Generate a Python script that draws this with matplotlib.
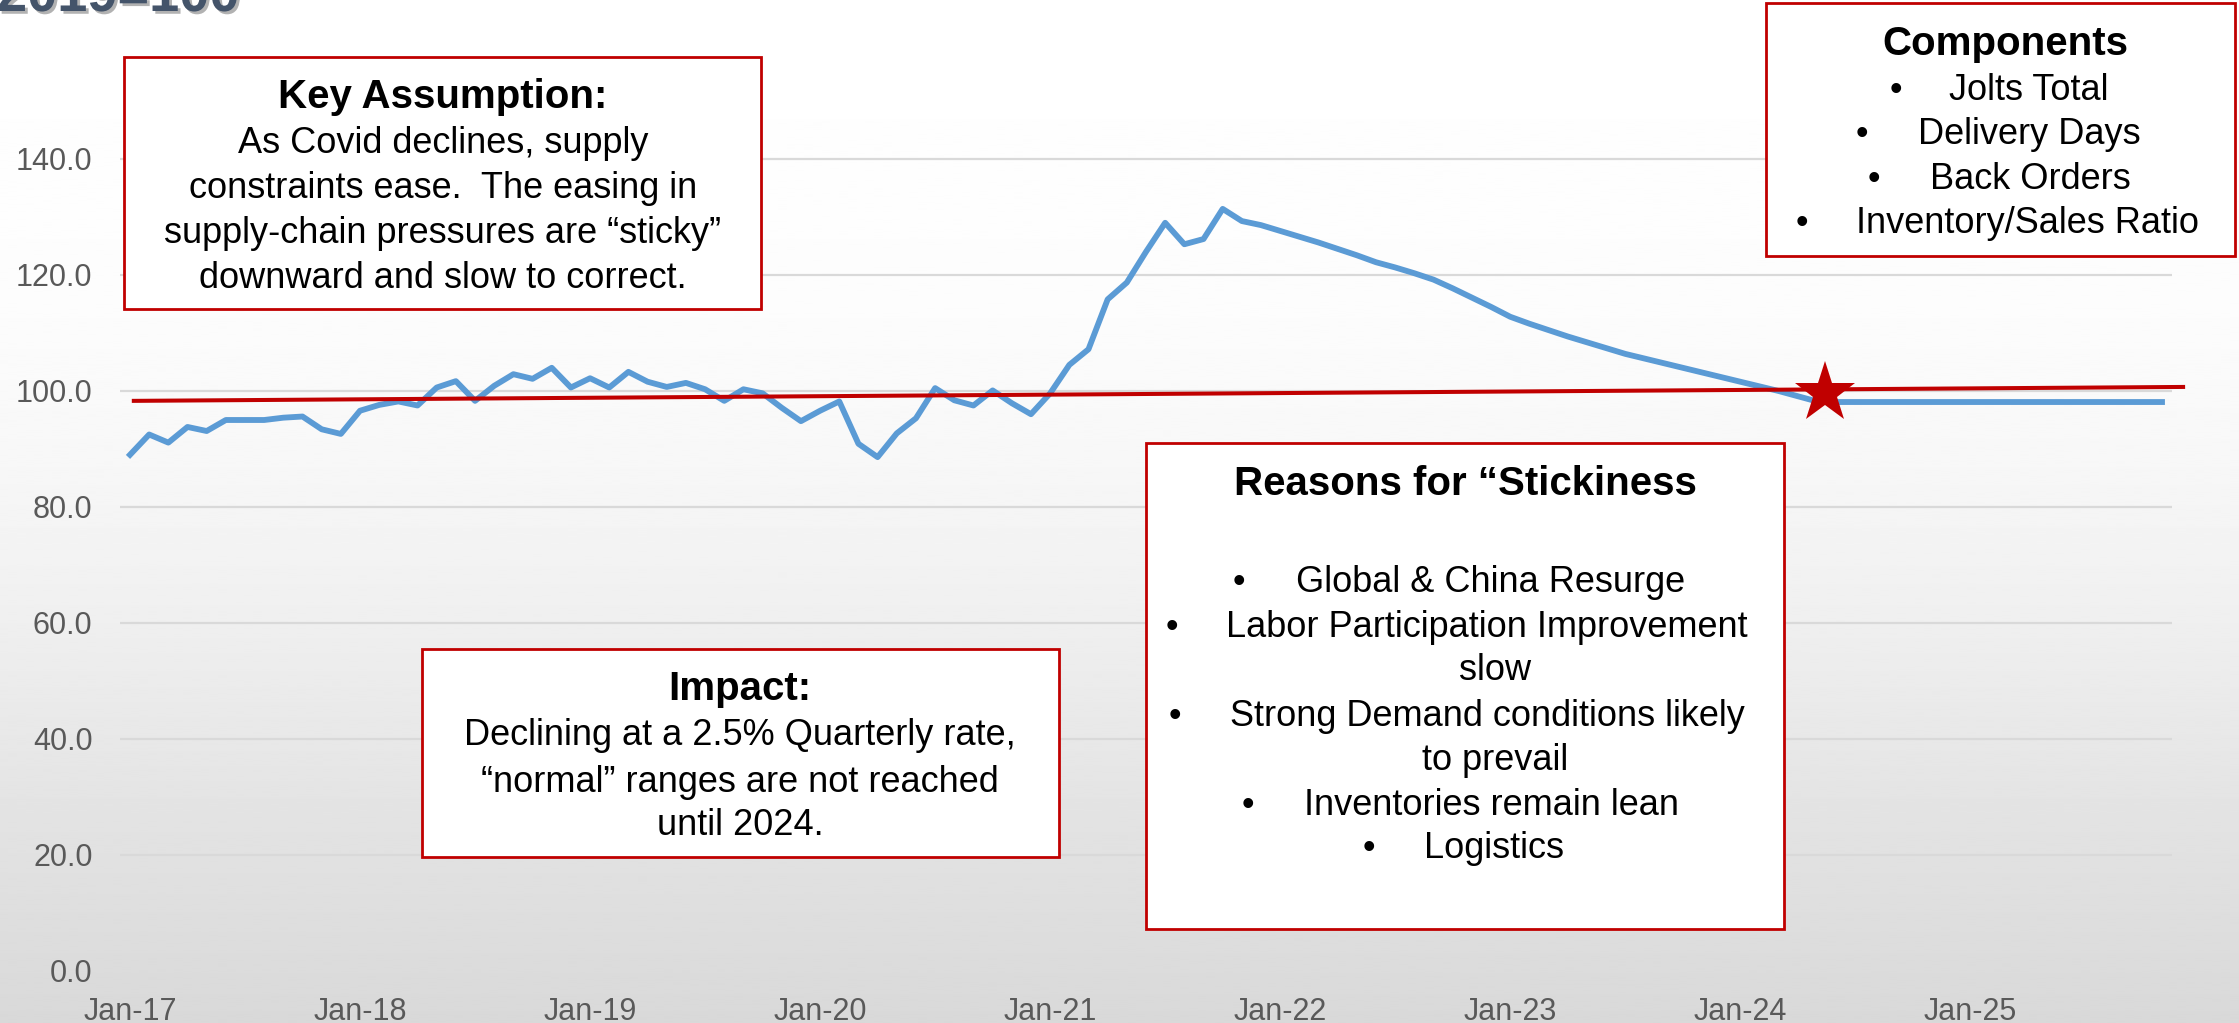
"""
Supply-chain pressure index, Jan-17 .. Nov-25 (2019=100), with annotation boxes.
Saves out.png (2239x1023).
"""

import numpy as np
import pandas as pd
import matplotlib
matplotlib.use("Agg")
import matplotlib.pyplot as plt
import matplotlib.patheffects as pe
from matplotlib.patches import Rectangle

# ── Data ──────────────────────────────────────────────────────────────────────

index_vals = [
    89.0, 92.5, 91.1, 93.8, 93.1, 95.0, 95.0, 95.0, 95.4, 95.6, 93.4, 92.6,      # 2017
    96.6, 97.6, 98.2, 97.5, 100.6, 101.7, 98.3, 100.9, 102.9, 102.1, 104.0, 100.6,  # 2018
    102.2, 100.6, 103.3, 101.6, 100.7, 101.4, 100.3, 98.3, 100.3, 99.6, 97.1, 94.8,  # 2019
    96.6, 98.2, 90.9, 88.6, 92.7, 95.3, 100.5, 98.4, 97.5, 100.1, 97.9, 96.0,    # 2020
    99.6, 104.5, 107.2, 115.8, 118.7, 124.0, 129.0, 125.3, 126.2, 131.4, 129.3, 128.6,  # 2021
    127.6, 126.6, 125.6, 124.5, 123.4, 122.2, 121.3, 120.3, 119.2, 117.7, 116.1, 114.5,  # 2022
    112.8, 111.6, 110.5, 109.4, 108.4, 107.4, 106.4, 105.6, 104.8, 104.0, 103.2, 102.4,  # 2023
    101.6, 100.8, 100.0, 99.1, 98.2, 98.1, 98.1, 98.1, 98.1, 98.1, 98.1, 98.1,   # 2024
    98.1, 98.1, 98.1, 98.1, 98.1, 98.1, 98.1, 98.1, 98.1, 98.1, 98.1,           # 2025
]
months = pd.date_range("2017-01-01", periods=len(index_vals), freq="MS")

tick_pos = list(range(0, len(index_vals), 12))
tick_labels = [months[i].strftime("%b-%y") for i in tick_pos]
y_ticks = [0, 20, 40, 60, 80, 100, 120, 140]

# linear trend (month index, value) and the "normal reached" star
trend_x = [0.2, 107.1]
trend_y = [98.3, 100.7]
star_x, star_y = 88.4, 99.7

title_text = "2019=100"
key_title = "Key Assumption:"
key_lines = ["As Covid declines, supply",
             "constraints ease.  The easing in",
             "supply-chain pressures are \u201csticky\u201d",
             "downward and slow to correct."]
comp_title = "Components"
comp_items = ["Jolts Total", "Delivery Days", "Back Orders", "Inventory/Sales Ratio"]
impact_title = "Impact:"
impact_lines = ["Declining at a 2.5% Quarterly rate,",
                "\u201cnormal\u201d ranges are not reached",
                "until 2024."]
reasons_title = "Reasons for \u201cStickiness"
reasons_items = ["Global & China Resurge",
                 "Labor Participation Improvement",
                 "Strong Demand conditions likely",
                 "Inventories remain lean",
                 "Logistics"]
reasons_wrap = ["slow", "to prevail"]

# ── Style ─────────────────────────────────────────────────────────────────────

W, H = 2239, 1023
plt.rcParams["font.family"] = ["Liberation Sans", "DejaVu Sans"]

BLUE = "#5B9BD5"
RED = "#C00000"
GRID = "#D9D9D9"
TICK = "#595959"
BODY = 26
HEAD = 29

fig = plt.figure(figsize=(W / 100, H / 100), dpi=100)

# slide-style vertical gradient behind everything
bg = fig.add_axes([0, 0, 1, 1], zorder=-1)
rows = np.linspace(0, 1, 400)
shade = np.interp(rows, [0, 0.3, 0.45, 0.6, 0.8, 1.0],
                  [1.0, 0.99, 0.97, 0.94, 0.89, 0.85])
bg.imshow(shade[:, None], cmap="gray", vmin=0, vmax=1, aspect="auto",
          extent=[0, 1, 0, 1], interpolation="bilinear")
bg.set_axis_off()

# ── Chart ─────────────────────────────────────────────────────────────────────

ax_left, ax_right = 120.4, 2171.6      # px
ax_bottom, ax_top = 971.0, 101.0       # px from top
ax = fig.add_axes([ax_left / W, 1 - ax_bottom / H,
                   (ax_right - ax_left) / W, (ax_bottom - ax_top) / H])
ax.set_facecolor("none")
for s in ax.spines.values():
    s.set_visible(False)

x = np.arange(len(index_vals))
ax.plot(x, index_vals, color=BLUE, lw=4.2, solid_joinstyle="round", zorder=3)
ax.plot(trend_x, trend_y, color=RED, lw=2.9, clip_on=False, zorder=4)
ax.plot(star_x, star_y, marker="*", ms=46, color=RED, mew=0,
        clip_on=False, zorder=5)

ax.set_xlim(-0.5, len(index_vals) - 0.5)
ax.set_ylim(0, 150)
ax.set_xticks(tick_pos)
ax.set_xticklabels(tick_labels)
ax.set_yticks(y_ticks)
ax.set_yticklabels([f"{v:.1f}" for v in y_ticks])
ax.tick_params(axis="both", length=0, labelsize=22, labelcolor=TICK)
ax.tick_params(axis="y", pad=20)
ax.tick_params(axis="x", pad=18.5)
ax.yaxis.grid(True, color=GRID, lw=1.6)
ax.set_axisbelow(True)
ax.get_ygridlines()[0].set_visible(False)

# ── Annotation boxes (pixel layout) ──────────────────────────────────────────


def box(x0, y0, x1, y1):
    fig.add_artist(Rectangle((x0 / W, 1 - y1 / H), (x1 - x0) / W, (y1 - y0) / H,
                             transform=fig.transFigure, fc="white", ec=RED,
                             lw=2, zorder=5))


def txt(px, py, s, size=BODY, weight="normal", ha="center"):
    fig.text(px / W, 1 - py / H, s, ha=ha, va="baseline", fontsize=size,
             fontweight=weight, color="black", zorder=6)


def bullet(bx, tx, py, s):
    txt(bx, py, "\u2022")
    txt(tx, py, s, ha="left")


# Key assumption
box(124, 57, 761, 309)
txt(443, 108, key_title, size=HEAD, weight="bold")
for line, py in zip(key_lines, [153, 198, 243, 288]):
    txt(443, py, line)

# Components
box(1766, 3, 2235, 256)
txt(2005, 55, comp_title, size=HEAD, weight="bold")
for item, (bx, tx, py) in zip(comp_items, [(1896, 1949, 100), (1862, 1918, 144),
                                           (1874, 1930, 189), (1802, 1856, 233)]):
    bullet(bx, tx, py, item)

# Impact
box(422, 649, 1059, 857)
txt(740, 700, impact_title, size=HEAD, weight="bold")
for line, py in zip(impact_lines, [745, 792, 835]):
    txt(740, py, line)

# Reasons for stickiness
box(1146, 443, 1784, 929)
txt(1465, 495, reasons_title, size=HEAD, weight="bold")
for item, (bx, tx, py) in zip(reasons_items, [(1239, 1296, 592), (1172, 1226, 637),
                                              (1175, 1230, 726), (1248, 1304, 815),
                                              (1369, 1424, 858)]):
    bullet(bx, tx, py, item)
txt(1495, 680, reasons_wrap[0])
txt(1495, 770, reasons_wrap[1])

# cut-off slide title at the very top
fig.text(-3 / W, 1 - 11 / H, title_text, ha="left", va="baseline", fontsize=39,
         fontweight="bold", color="#44546A", zorder=6,
         path_effects=[pe.withSimplePatchShadow(offset=(2, -2), shadow_rgbFace="#7F7F7F",
                                                alpha=0.6)])

fig.savefig("out.png", dpi=100)
